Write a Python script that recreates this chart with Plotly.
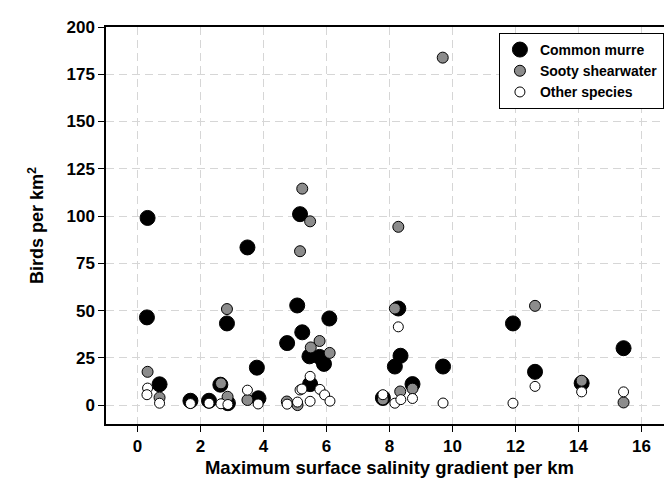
import plotly.graph_objects as go

# Common murre
murre_x = [0.32, 0.30, 0.70, 1.68, 2.27, 2.63, 2.87, 2.84, 3.49, 3.79, 3.84, 4.75, 5.07, 5.16, 5.23,
           6.09, 5.46, 5.78, 5.92, 5.48, 8.28, 8.35, 8.17, 8.73, 7.79, 9.70, 11.92, 12.62, 14.10, 15.43]
murre_y = [99.0, 46.4, 11.0, 2.3, 2.3, 10.8, 1.0, 43.2, 83.4, 19.8, 3.6, 32.8, 52.7, 101.0, 38.5,
           45.8, 25.8, 25.5, 21.8, 11.1, 51.1, 26.1, 20.4, 11.1, 3.8, 20.4, 43.2, 17.6, 11.6, 30.1]

# Sooty shearwater
sooty_x = [0.32, 0.70, 2.65, 2.86, 2.84, 3.49, 4.74, 5.08, 5.23, 5.48, 5.16, 5.78, 5.50, 6.10,
           8.17, 8.28, 8.34, 8.73, 7.79, 9.69, 12.62, 14.10, 15.43]
sooty_y = [17.6, 4.0, 11.5, 4.4, 50.8, 2.7, 1.9, 0.0, 114.5, 97.2, 81.4, 33.9, 30.5, 27.6,
           51.1, 94.3, 7.2, 8.7, 3.0, 183.8, 52.5, 12.9, 1.4]

# Other species
other_x = [0.32, 0.30, 0.70, 1.68, 2.27, 2.65, 2.87, 3.49, 3.83, 4.75, 5.08, 5.16, 5.22, 5.48,
           5.79, 5.94, 6.11, 5.48, 7.79, 8.28, 8.17, 8.36, 8.73, 9.70, 11.92, 12.62, 14.10, 15.43]
other_y = [9.0, 5.5, 1.0, 0.8, 1.0, 0.7, 0.3, 7.9, 0.6, 0.5, 1.6, 8.0, 8.5, 15.2,
           8.3, 5.4, 2.1, 2.0, 5.5, 41.4, 1.0, 2.9, 3.5, 1.1, 1.0, 9.9, 7.0, 7.0]

x_ticks = [0, 2, 4, 6, 8, 10, 12, 14, 16]
y_ticks = [0, 25, 50, 75, 100, 125, 150, 175, 200]

fig = go.Figure()
fig.add_trace(go.Scatter(x=murre_x, y=murre_y, mode="markers", name="Common murre",
                         marker=dict(size=15, color="black", line=dict(color="black", width=1))))
fig.add_trace(go.Scatter(x=sooty_x, y=sooty_y, mode="markers", name="Sooty shearwater",
                         marker=dict(size=11, color="#8c8c8c", line=dict(color="black", width=1))))
fig.add_trace(go.Scatter(x=other_x, y=other_y, mode="markers", name="Other species",
                         marker=dict(size=10, color="white", line=dict(color="black", width=1))))

font_family = "Arial, Liberation Sans, sans-serif"
axis_common = dict(
    showline=True, linecolor="black", linewidth=1.5, mirror=True,
    ticks="outside", ticklen=6, tickwidth=1.2, tickcolor="black",
    showgrid=True, gridcolor="#d6d6d6", gridwidth=1, griddash="8px,5px",
    zeroline=False, automargin=False,
    tickfont=dict(family=font_family, size=17, color="black", weight="bold"),
)

fig.update_layout(
    width=672, height=480,
    margin=dict(l=98, r=7, t=19, b=64),
    paper_bgcolor="white", plot_bgcolor="white",
    font=dict(family=font_family, color="black"),
    xaxis=dict(range=[-1, 17], tickvals=x_ticks,
               title=dict(text="Maximum surface salinity gradient per km",
                          font=dict(family=font_family, size=18.5, color="black", weight="bold"),
                          standoff=6),
               **axis_common),
    yaxis=dict(range=[-10, 200], tickvals=y_ticks,
               title=dict(text="Birds per km<sup>2</sup>",
                          font=dict(family=font_family, size=18, color="black", weight="bold"),
                          standoff=18),
               **axis_common),
    legend=dict(x=0.984, y=0.985, xanchor="right", yanchor="top",
                bordercolor="black", borderwidth=1, bgcolor="white",
                font=dict(family=font_family, size=14, color="black", weight="bold"),
                tracegroupgap=0, itemwidth=30),
    showlegend=True,
)

fig.write_html("out.html")
